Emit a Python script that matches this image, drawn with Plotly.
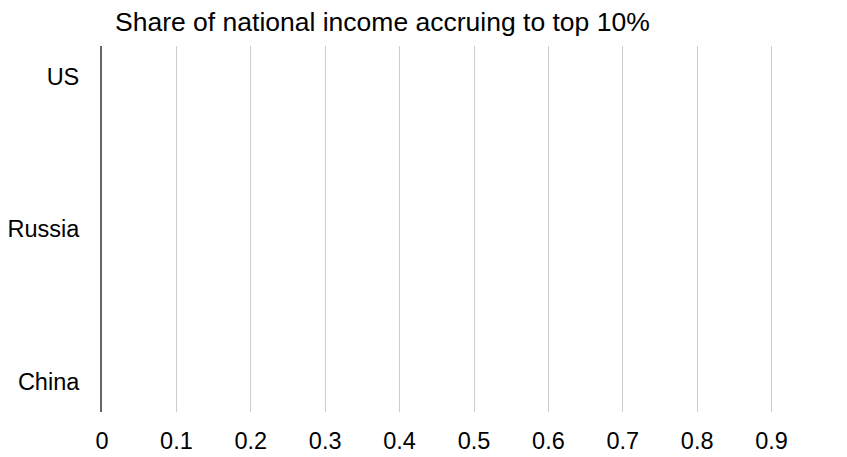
import plotly.graph_objects as go

countries = ["US", "Russia", "China"]
top10_share = [0, 0, 0]  # no visible bars in the reference
x_ticks = [0, 0.1, 0.2, 0.3, 0.4, 0.5, 0.6, 0.7, 0.8, 0.9, 1]
x_tick_labels = ["0", "0.1", "0.2", "0.3", "0.4", "0.5", "0.6", "0.7", "0.8", "0.9", "1"]
title_text = "Share of national income accruing to top 10%"

W, H = 847, 457
fig = go.Figure()
fig.add_trace(go.Bar(
    x=top10_share, y=countries, orientation="h",
    marker=dict(color="#4e79a7", line=dict(width=0)),
    showlegend=False, hoverinfo="x+y",
))

font_family = "Liberation Sans, Arial, Helvetica, sans-serif"
fig.update_layout(
    width=W, height=H,
    margin=dict(l=94, r=9, t=38, b=53, autoexpand=False),
    paper_bgcolor="white", plot_bgcolor="white",
    font=dict(family=font_family, size=23.5, color="#000000"),
    title=dict(text=title_text, x=107 / W, xanchor="left", xref="container",
               y=1 - 14 / H, yanchor="middle", yref="container",
               font=dict(size=26.5, color="#000000", family=font_family)),
    bargap=0.3,
)
fig.update_xaxes(
    range=[0, 1], tickvals=x_ticks, ticktext=x_tick_labels,
    showgrid=True, gridcolor="#cccccc", gridwidth=1,
    zeroline=False, showline=False, ticks="", ticklen=0,
    automargin=False, ticklabeloverflow="allow", ticklabelstandoff=12,
    tickfont=dict(size=23.5, color="#000000"),
)
fig.update_yaxes(
    categoryorder="array", categoryarray=countries,
    range=[2.2, -0.2], showgrid=False, zeroline=False,
    showline=True, linecolor="#666666", linewidth=2,
    ticks="", ticklen=0, ticklabelstandoff=16, automargin=False,
    tickfont=dict(size=23.5, color="#000000"),
)
fig.write_html("out.html")
